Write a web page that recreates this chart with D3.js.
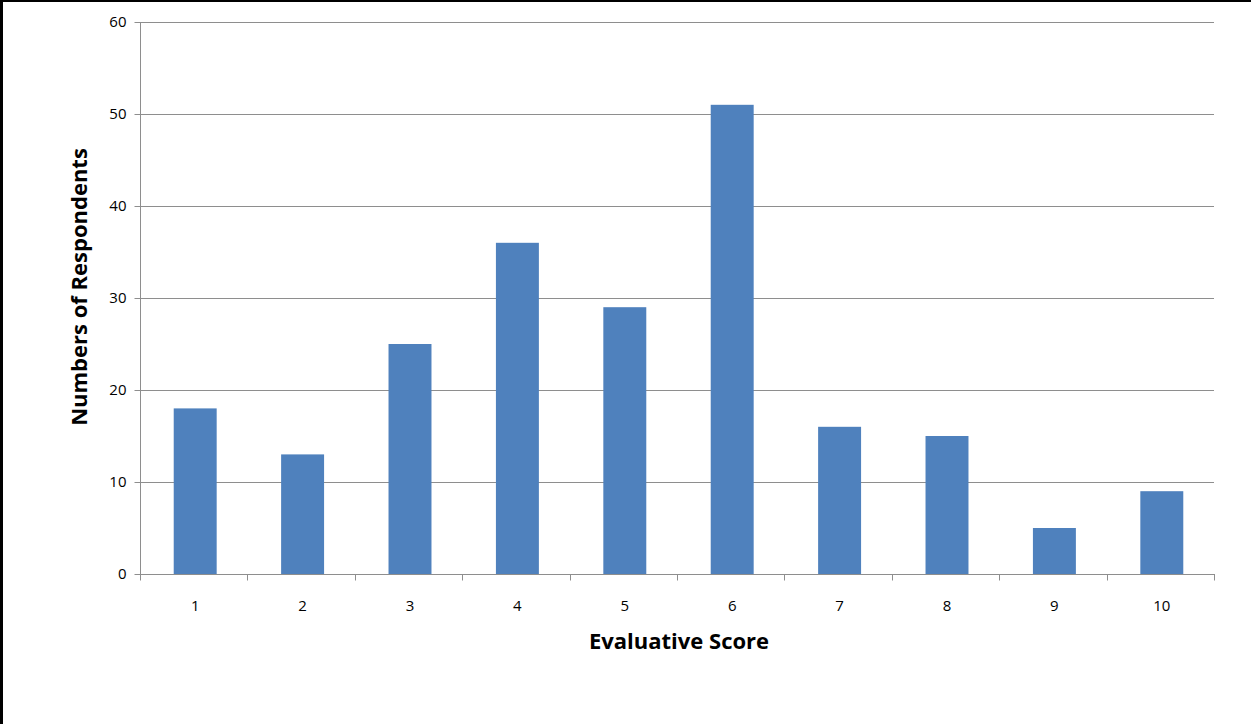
<!DOCTYPE html>
<html lang="en">
<head>
  <meta charset="UTF-8">
  <title>Evaluative Score</title>
  <style>
    body { margin: 0; background: #fff; }
    svg { display: block; font-family: "Open Sans", "Liberation Sans", sans-serif; }
  </style>
</head>
<body>
  <svg id="chart"></svg>
  <script src="https://cdn.jsdelivr.net/npm/d3@7"></script>
  <script>
    var scores = ['1', '2', '3', '4', '5', '6', '7', '8', '9', '10'];
    var respondents = [18, 13, 25, 36, 29, 51, 16, 15, 5, 9];
    var yTicks = [0, 10, 20, 30, 40, 50, 60];

    var W = 1251, H = 724;
    // plot box (note: "top" is reserved on window, so use plot* names)
    var plotL = 140, plotR = 1214, plotT = 22, plotB = 574;
    var axisColor = '#8e8e8e';

    var svg = d3.select('#chart').attr('width', W).attr('height', H);

    // frame (only left/top edges show in the original)
    svg.append('line').attr('x1', 0).attr('y1', 1).attr('x2', W).attr('y2', 1)
      .attr('stroke', '#000').attr('stroke-width', 2);
    svg.append('line').attr('x1', 1.5).attr('y1', 0).attr('x2', 1.5).attr('y2', H)
      .attr('stroke', '#000').attr('stroke-width', 3);

    var x = d3.scaleBand().domain(scores).range([plotL, plotR]).padding(0);
    var y = d3.scaleLinear().domain([0, 60]).range([plotB, plotT]);

    // gridlines
    svg.append('g').selectAll('line')
      .data(yTicks.slice(1))
      .enter()
      .append('line')
      .attr('x1', plotL).attr('x2', plotR)
      .attr('y1', d => y(d) + 0.5).attr('y2', d => y(d) + 0.5)
      .attr('stroke', axisColor).attr('stroke-width', 1);

    // bars
    var barW = x.bandwidth() * 0.4;
    svg.append('g').selectAll('rect')
      .data(respondents)
      .enter()
      .append('rect')
      .attr('x', (d, i) => x(scores[i]) + (x.bandwidth() - barW) / 2 + 1.5)
      .attr('y', d => y(d))
      .attr('width', barW)
      .attr('height', d => y(0) - y(d) + 1)
      .attr('fill', '#4f81bd');

    // y axis
    var yAxis = svg.append('g')
      .attr('transform', 'translate(' + (plotL + 0.5) + ',0)')
      .call(d3.axisLeft(y).tickValues(yTicks).tickSize(6).tickPadding(8));
    yAxis.select('.domain').attr('stroke', axisColor).attr('d', 'M0,' + plotT + 'V' + plotB);
    yAxis.selectAll('.tick line').attr('stroke', axisColor);
    yAxis.selectAll('.tick text').attr('font-size', 15).attr('fill', '#000')
      .attr('font-family', '"Open Sans", sans-serif');

    // x axis with ticks at band edges
    var xAxis = svg.append('g').attr('transform', 'translate(0,' + (plotB + 0.5) + ')');
    xAxis.append('line').attr('x1', plotL).attr('x2', plotR + 1)
      .attr('stroke', axisColor);
    var edges = scores.map(s => x(s)).concat([plotR]);
    xAxis.selectAll('.edge')
      .data(edges)
      .enter()
      .append('line')
      .attr('x1', d => Math.round(d) + 0.5).attr('x2', d => Math.round(d) + 0.5)
      .attr('y1', 0).attr('y2', 6)
      .attr('stroke', axisColor);
    xAxis.selectAll('text')
      .data(scores)
      .enter()
      .append('text')
      .attr('x', d => x(d) + x.bandwidth() / 2 + 1.5)
      .attr('y', 36)
      .attr('text-anchor', 'middle')
      .attr('font-size', 15)
      .text(d => d);

    // axis titles
    svg.append('text')
      .attr('x', (plotL + plotR) / 2 + 2)
      .attr('y', 649)
      .attr('text-anchor', 'middle')
      .attr('font-size', 22)
      .attr('font-weight', 'bold')
      .text('Evaluative Score');
    svg.append('text')
      .attr('transform', 'translate(87,' + ((plotT + plotB) / 2 - 11) + ') rotate(-90)')
      .attr('text-anchor', 'middle')
      .attr('font-size', 22)
      .attr('font-weight', 'bold')
      .text('Numbers of Respondents');
  </script>
</body>
</html>
